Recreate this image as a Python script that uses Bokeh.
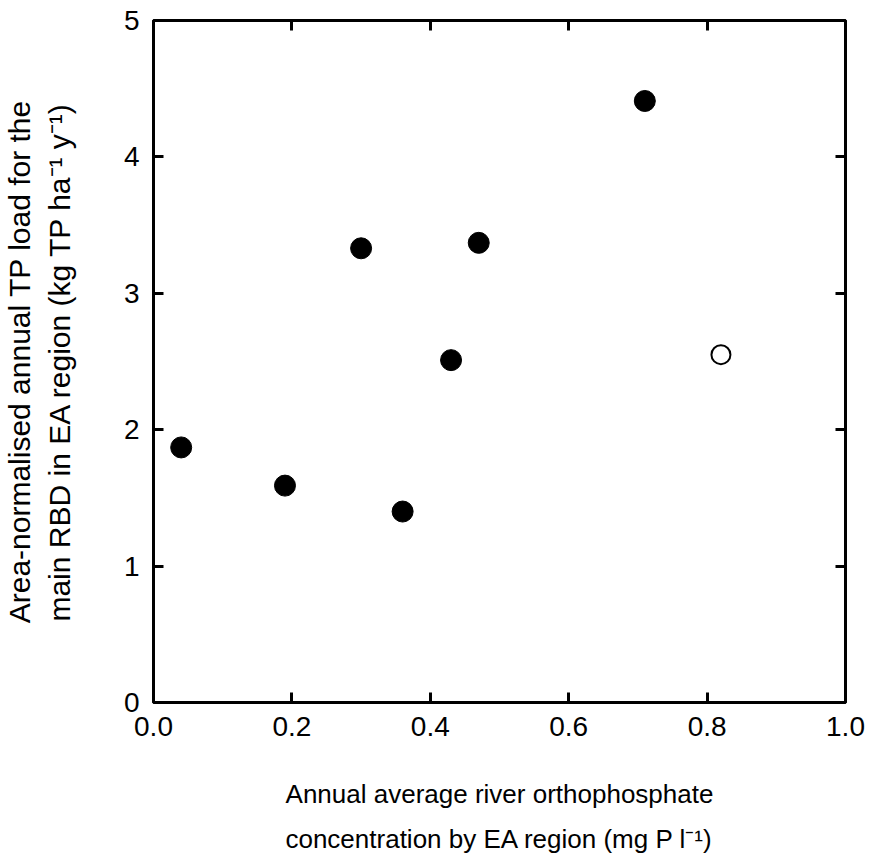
from bokeh.plotting import figure
from bokeh.models import LinearAxis, FixedTicker, Range1d, CustomJSTickFormatter
from bokeh.embed import file_html
from bokeh.resources import INLINE

# Data
conc_filled = [0.04, 0.19, 0.30, 0.36, 0.43, 0.47, 0.71]
load_filled = [1.87, 1.59, 3.33, 1.40, 2.51, 3.37, 4.41]
conc_open = [0.82]
load_open = [2.55]

x_ticks = [0.0, 0.2, 0.4, 0.6, 0.8, 1.0]
y_ticks = [0, 1, 2, 3, 4, 5]

x_title = "Annual average river orthophosphate\nconcentration by EA region (mg P l\u207b\u00b9)"
y_title = "Area-normalised annual TP load for the\nmain RBD in EA region (kg TP ha\u207b\u00b9 y\u207b\u00b9)"

FONT = "Liberation Sans"

p = figure(frame_width=692, frame_height=682,
           x_range=Range1d(0, 1), y_range=Range1d(0, 5),
           output_backend="svg", toolbar_location=None,
           min_border_left=152, min_border_top=20, min_border_right=24,
           min_border_bottom=10)

p.grid.visible = False
p.outline_line_color = "black"
p.outline_line_width = 3
p.background_fill_color = "white"
p.border_fill_color = "white"

def style_axis(ax, ticks, show_labels):
    ax.ticker = FixedTicker(ticks=ticks)
    ax.axis_line_color = None
    ax.major_tick_in = 10
    ax.major_tick_out = 0
    ax.major_tick_line_width = 3
    ax.major_tick_line_color = "black"
    ax.minor_tick_line_color = None
    ax.major_label_text_font = FONT
    ax.major_label_text_font_size = "28px"
    ax.major_label_text_color = "black" if show_labels else None
    ax.major_label_standoff = 14

xa = p.xaxis[0]
ya = p.yaxis[0]
style_axis(xa, x_ticks, True)
style_axis(ya, y_ticks, True)
xa.formatter = CustomJSTickFormatter(code="return tick.toFixed(1);")
ya.formatter = CustomJSTickFormatter(code="return tick.toFixed(0);")

xa.axis_label = x_title
xa.axis_label_text_font = FONT
xa.axis_label_text_font_size = "26px"
xa.axis_label_text_font_style = "normal"
xa.axis_label_text_color = "black"
xa.axis_label_text_line_height = 1.5
xa.axis_label_standoff = 40

ya.axis_label = y_title
ya.axis_label_text_font = FONT
ya.axis_label_text_font_size = "30px"
ya.axis_label_text_font_style = "normal"
ya.axis_label_text_color = "black"
ya.axis_label_standoff = 45

top = LinearAxis()
style_axis(top, x_ticks, False)
top.major_label_text_font_size = "1px"
p.add_layout(top, "above")

right = LinearAxis()
style_axis(right, y_ticks, False)
right.major_label_text_font_size = "1px"
p.add_layout(right, "right")

p.scatter(conc_filled, load_filled, size=21, marker="circle",
          fill_color="black", line_color="black")
p.scatter(conc_open, load_open, size=19, marker="circle",
          fill_color="white", line_color="black", line_width=2)

open("out.html", "w").write(file_html(p, INLINE))
